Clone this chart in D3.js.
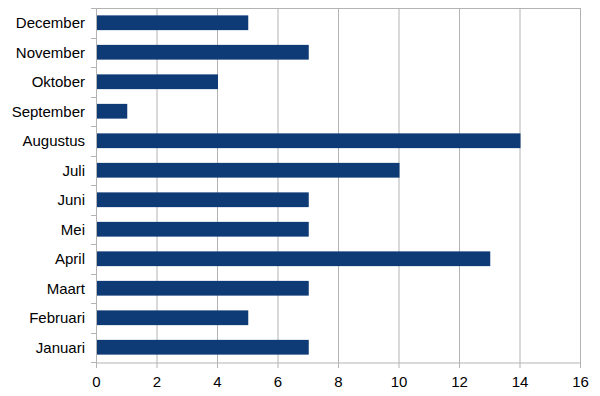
<!DOCTYPE html>
<html>
<head>
<meta charset="utf-8">
<script src="https://cdn.jsdelivr.net/npm/d3@7"></script>
<style>
  body { margin: 0; background: #fff; }
  text { font-family: "Liberation Sans", Arial, sans-serif; fill: #000; }
</style>
</head>
<body>
<div class="chart"></div>
<script>
// data
const months = ["Januari", "Februari", "Maart", "April", "Mei", "Juni",
  "Juli", "Augustus", "September", "Oktober", "November", "December"];
const counts = [7, 5, 7, 13, 7, 7, 10, 14, 1, 4, 7, 5];
const xTicks = [0, 2, 4, 6, 8, 10, 12, 14, 16];

const margin = { top: 8, right: 20, bottom: 34, left: 96 };
const svgWidth = 600;
const svgHeight = 396;
const width = svgWidth - margin.left - margin.right;
const height = svgHeight - margin.top - margin.bottom;

const gridColor = "#b3b3b3";

const svg = d3.select(".chart")
  .append("svg")
  .attr("width", svgWidth)
  .attr("height", svgHeight)
  .append("g")
  .attr("transform", "translate(" + margin.left + "," + margin.top + ")");

const x = d3.scaleLinear().domain([0, 16]).range([0, width]);
// months go bottom-up, so reverse for the band domain
const y = d3.scaleBand()
  .domain(months.slice().reverse())
  .range([0, height])
  .paddingInner(0.5)
  .paddingOuter(0.25);

// vertical gridlines
svg.append("g")
  .selectAll("line")
  .data(xTicks.slice(1))
  .join("line")
  .attr("x1", d => x(d) + 0.5)
  .attr("x2", d => x(d) + 0.5)
  .attr("y1", 0)
  .attr("y2", height)
  .attr("stroke", gridColor);

// top border
svg.append("line")
  .attr("x1", 0).attr("x2", width)
  .attr("y1", 0.5).attr("y2", 0.5)
  .attr("stroke", gridColor);

// bars
svg.append("g")
  .selectAll("rect")
  .data(months.map((m, i) => ({ month: m, value: counts[i] })))
  .join("rect")
  .attr("x", x(0) + 1)
  .attr("y", d => y(d.month))
  .attr("width", d => x(d.value) - x(0))
  .attr("height", y.bandwidth())
  .attr("fill", "#0e3a76");

// x axis
const xAxis = svg.append("g")
  .attr("transform", "translate(0," + height + ")")
  .call(d3.axisBottom(x).tickValues(xTicks).tickSize(6).tickSizeOuter(0).tickPadding(8));
xAxis.select(".domain").attr("stroke", gridColor).attr("transform", "translate(0,0.5)");
xAxis.selectAll(".tick line").attr("stroke", gridColor);
xAxis.selectAll(".tick text").style("font-size", "15px");

// y axis: ticks sit on the category boundaries
const yAxis = svg.append("g");
yAxis.append("line")
  .attr("x1", 0.5).attr("x2", 0.5)
  .attr("y1", 0).attr("y2", height)
  .attr("stroke", gridColor);
yAxis.selectAll(".bound")
  .data(d3.range(months.length + 1))
  .join("line")
  .attr("class", "bound")
  .attr("x1", -5).attr("x2", 0)
  .attr("y1", i => Math.round(i * height / months.length) + 0.5)
  .attr("y2", i => Math.round(i * height / months.length) + 0.5)
  .attr("stroke", gridColor);
yAxis.selectAll("text")
  .data(months)
  .join("text")
  .attr("x", -11)
  .attr("y", d => y(d) + y.bandwidth() / 2)
  .attr("dy", "0.35em")
  .attr("text-anchor", "end")
  .style("font-size", "15px")
  .text(d => d);
</script>
</body>
</html>
